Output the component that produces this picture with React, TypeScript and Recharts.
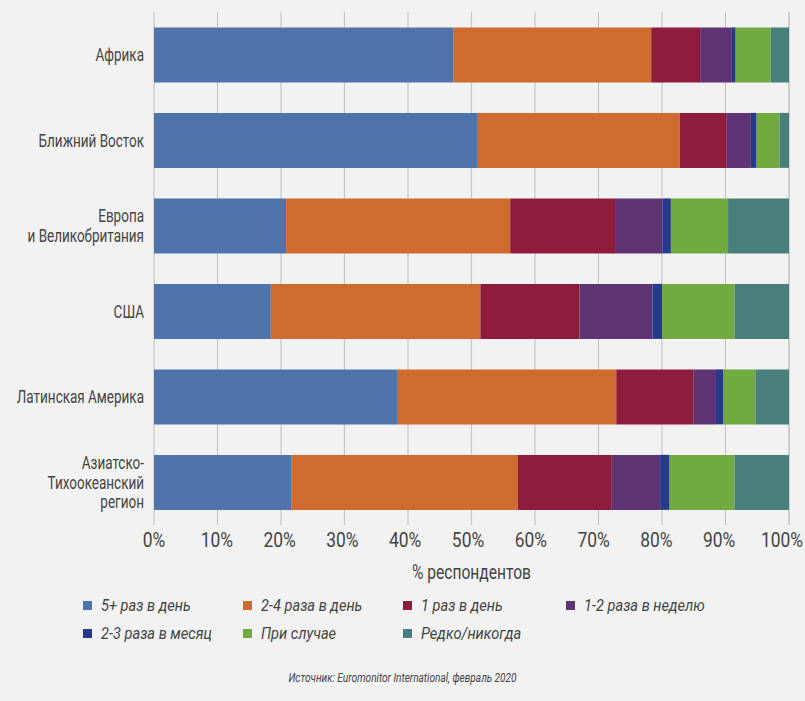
import { Bar, BarChart, CartesianGrid, XAxis, YAxis } from 'recharts';

const regions = [
  'Африка',
  'Ближний Восток',
  'Европа\nи Великобритания',
  'США',
  'Латинская Америка',
  'Азиатско-\nТихоокеанский\nрегион',
];

// share of respondents per region, %
const fivePlusDaily = [47.2, 51.0, 20.8, 18.4, 38.4, 21.6];
const twoToFourDaily = [31.1, 31.8, 35.3, 33.0, 34.4, 35.7];
const onceDaily = [7.7, 7.4, 16.5, 15.6, 12.2, 14.8];
const weekly = [5.0, 3.8, 7.5, 11.5, 3.5, 7.6];
const monthly = [0.6, 0.9, 1.3, 1.5, 1.2, 1.5];
const occasionally = [5.5, 3.6, 9.0, 11.4, 5.0, 10.2];
const rarely = [2.9, 1.5, 9.6, 8.6, 5.3, 8.6];

const xTicks = [0, 10, 20, 30, 40, 50, 60, 70, 80, 90, 100];

const series = [
  { key: 'fivePlus', name: '5+ раз в день', values: fivePlusDaily, color: '#4f74ab' },
  { key: 'twoFour', name: '2-4 раза в день', values: twoToFourDaily, color: '#cf6b2e' },
  { key: 'once', name: '1 раз в день', values: onceDaily, color: '#8f1c3d' },
  { key: 'weekly', name: '1-2 раза в неделю', values: weekly, color: '#5e3474' },
  { key: 'monthly', name: '2-3 раза в месяц', values: monthly, color: '#27398a' },
  { key: 'occasional', name: 'При случае', values: occasionally, color: '#71aa3f' },
  { key: 'rarely', name: 'Редко/никогда', values: rarely, color: '#47807a' },
];

const data = regions.map((region, i) => {
  const row: Record<string, string | number> = { region };
  series.forEach((s) => {
    row[s.key] = s.values[i];
  });
  return row;
});

// no condensed face available, so Roboto gets squeezed horizontally
const FONT = 'Roboto, "Noto Sans", sans-serif';
const TEXT = '#444';

function RegionTick({ x, y, payload }: any) {
  const lines = String(payload.value).split('\n');
  const lh = 19.5;
  const start = -((lines.length - 1) * lh) / 2;
  return (
    <g transform={`translate(${x - 2},${y}) scale(0.75,1)`}>
      <text x={0} y={0} textAnchor="end" fill={TEXT} fontSize={18} fontFamily={FONT}>
        {lines.map((line, i) => (
          <tspan key={i} x={0} y={start + i * lh} dy="0.36em">
            {line}
          </tspan>
        ))}
      </text>
    </g>
  );
}

// percent labels sit on a slightly tighter pitch than the grid, so the
// last one stays inside the frame
function PercentTick({ x, y, payload }: any) {
  const shift = -0.07 * payload.value;
  return (
    <g transform={`translate(${x + shift},${y}) scale(0.87,1)`}>
      <text x={0} y={0} dy="0.71em" textAnchor="middle" fill={TEXT} fontSize={20} fontFamily={FONT}>
        {`${payload.value}%`}
      </text>
    </g>
  );
}

function AxisTitle({ viewBox }: any) {
  const cx = viewBox.x + viewBox.width / 2;
  const by = viewBox.y + viewBox.height - 21;
  return (
    <g transform={`translate(${cx},${by}) scale(0.78,1)`}>
      <text x={0} y={0} textAnchor="middle" fill={TEXT} fontSize={20} fontFamily={FONT}>
        % респондентов
      </text>
    </g>
  );
}

const legendCols = [83, 243, 403, 566];

export default function App() {
  return (
    <div
      style={{
        position: 'absolute',
        left: 0,
        top: 0,
        width: 805,
        height: 701,
        background: '#f2f2f2',
        fontFamily: FONT,
      }}
    >
      <BarChart
        width={805}
        height={600}
        data={data}
        layout="vertical"
        margin={{ top: 12, right: 16, left: 0, bottom: 0 }}
        barCategoryGap="18%"
      >
        <CartesianGrid horizontal={false} stroke="#c6c6c6" strokeWidth={1.2} />
        <XAxis
          type="number"
          domain={[0, 100]}
          ticks={xTicks}
          tickLine={false}
          axisLine={false}
          height={75}
          interval={0}
          tick={<PercentTick />}
          label={{ content: AxisTitle }}
        />
        <YAxis
          type="category"
          dataKey="region"
          width={154}
          tickLine={false}
          axisLine={false}
          interval={0}
          tick={<RegionTick />}
        />
        {series.map((s) => (
          <Bar
            key={s.key}
            dataKey={s.key}
            name={s.name}
            stackId="a"
            fill={s.color}
            isAnimationActive={false}
          />
        ))}
      </BarChart>

      {series.map((s, i) => {
        const col = i < 4 ? i : i - 4;
        const row = i < 4 ? 0 : 1;
        return (
          <div
            key={s.key}
            style={{
              position: 'absolute',
              left: legendCols[col],
              top: 594 + row * 28,
              height: 22,
              display: 'flex',
              alignItems: 'center',
              color: TEXT,
              whiteSpace: 'nowrap',
            }}
          >
            <span
              style={{
                display: 'inline-block',
                width: 9,
                height: 9,
                background: s.color,
                marginRight: 9,
              }}
            />
            <span
              style={{
                display: 'inline-block',
                fontStyle: 'italic',
                fontSize: 17,
                transform: 'scaleX(0.86)',
                transformOrigin: 'left center',
              }}
            >
              {s.name}
            </span>
          </div>
        );
      })}

      <div
        style={{
          position: 'absolute',
          left: 0,
          width: 805,
          top: 671,
          textAlign: 'center',
          fontStyle: 'italic',
          fontSize: 12,
          color: TEXT,
          transform: 'scaleX(0.84)',
        }}
      >
        Источник: Euromonitor International, февраль 2020
      </div>
    </div>
  );
}
